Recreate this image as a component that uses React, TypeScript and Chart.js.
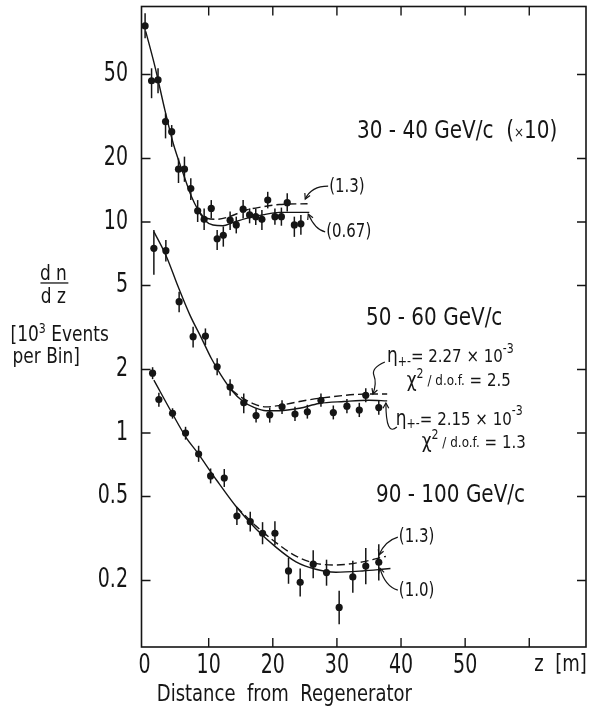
import React, { useEffect, useRef } from "react";
import { Chart, registerables } from "chart.js";

Chart.register(...registerables);

const FONT = "'DejaVu Sans', 'Noto Sans', sans-serif";
const INK = "#151515";

// ---------- axes ----------
const X_MIN = -0.48;
const X_MAX = 68.85;
const Y_MIN = 0.0968;
const Y_MAX = 105;
const X_TICK_VALUES = [0, 10, 20, 30, 40, 50];
const X_TICK_LABELS = ["0", "10", "20", "30", "40", "50"];
const X_FRAME_TICKS = [10, 20, 30, 40, 50, 60];
const Y_TICK_VALUES = [0.2, 0.5, 1, 2, 5, 10, 20, 50];
const Y_TICK_LABELS = ["0.2", "0.5", "1", "2", "5", "10", "20", "50"];

// ---------- 30-40 GeV/c (x10) ----------
const z3040 = [0.08, 1.09, 2.1, 3.27, 4.23, 5.29, 6.22, 7.21, 8.28, 9.29, 10.4, 11.32, 12.28, 13.34, 14.3, 15.37, 16.38, 17.34, 18.3, 19.21, 20.33, 21.34, 22.25, 23.36, 24.38];
const n3040 = [84.9, 46.7, 47.1, 29.9, 26.8, 17.8, 17.8, 14.4, 11.3, 10.3, 11.6, 8.33, 8.65, 10.2, 9.68, 11.5, 10.8, 10.6, 10.3, 12.7, 10.6, 10.6, 12.35, 9.68, 9.8];
const lo3040 = [74.3, 38.6, 40.7, 24.9, 22.7, 15.3, 15.5, 12.7, 10.0, 9.16, 10.4, 7.37, 7.64, 9.16, 8.83, 10.4, 9.86, 9.68, 9.16, 11.6, 9.7, 9.6, 11.2, 8.5, 8.7];
const hi3040 = [97.5, 53.5, 53.5, 32.7, 28.8, 20.0, 20.4, 16.1, 12.7, 11.6, 12.7, 9.16, 9.52, 11.2, 10.6, 12.7, 11.6, 11.6, 11.4, 13.9, 11.6, 11.7, 13.7, 10.6, 10.8];
const fitSolidZ3040 = [0.18, 1.62, 3.17, 4.46, 6.01, 7.31, 8.34, 9.38, 10.67, 12.23, 13.75, 15.87, 18.4, 21.03, 23.62, 25.69];
const fitSolidN3040 = [80.1, 54.5, 33.9, 23.6, 17.0, 13.2, 11.4, 10.2, 9.68, 9.6, 9.93, 10.4, 10.8, 11.1, 11.1, 11.1];
const fitDashZ3040 = [8.34, 9.38, 11.21, 13.24, 15.87, 18.4, 21.03, 25.42];
const fitDashN3040 = [11.4, 10.5, 10.3, 10.6, 11.4, 11.8, 12.1, 12.2];

// ---------- 50-60 GeV/c ----------
const z5060 = [1.45, 3.32, 5.39, 7.57, 9.49, 11.32, 13.34, 15.47, 17.39, 19.52, 21.44, 23.46, 25.39, 27.51, 29.44, 31.56, 33.49, 34.5, 36.53];
const n5060 = [7.5, 7.31, 4.19, 2.86, 2.88, 2.06, 1.65, 1.39, 1.21, 1.22, 1.33, 1.23, 1.26, 1.43, 1.25, 1.34, 1.285, 1.51, 1.32];
const lo5060 = [5.62, 6.49, 3.73, 2.54, 2.61, 1.88, 1.5, 1.24, 1.12, 1.12, 1.23, 1.14, 1.17, 1.33, 1.16, 1.24, 1.19, 1.4, 1.22];
const hi5060 = [9.16, 8.22, 4.67, 3.19, 3.13, 2.26, 1.8, 1.54, 1.31, 1.32, 1.43, 1.33, 1.36, 1.54, 1.35, 1.45, 1.39, 1.63, 1.42];
const fitSolidZ5060 = [1.45, 3.42, 5.24, 7.06, 8.89, 10.4, 11.92, 13.54, 15.37, 17.14, 18.96, 21.03, 24.17, 27.21, 31.12, 35.01, 37.84];
const fitSolidN5060 = [9.0, 6.85, 4.93, 3.63, 2.81, 2.26, 1.88, 1.6, 1.41, 1.318, 1.275, 1.275, 1.31, 1.38, 1.41, 1.43, 1.42];
const fitDashZ5060 = [13.54, 15.37, 17.14, 18.96, 21.03, 24.17, 27.21, 35.01, 37.84];
const fitDashN5060 = [1.6, 1.46, 1.37, 1.33, 1.35, 1.41, 1.46, 1.53, 1.53];

// ---------- 90-100 GeV/c ----------
const z90100 = [1.25, 2.23, 4.36, 6.39, 8.43, 10.3, 12.43, 14.4, 16.48, 18.4, 20.33, 22.45, 24.27, 26.3, 28.38, 30.35, 32.48, 34.5, 36.53];
const n90100 = [1.92, 1.44, 1.24, 1.0, 0.795, 0.626, 0.612, 0.404, 0.38, 0.335, 0.335, 0.222, 0.196, 0.239, 0.218, 0.149, 0.208, 0.234, 0.244];
const lo90100 = [1.8, 1.33, 1.17, 0.93, 0.73, 0.577, 0.555, 0.366, 0.341, 0.297, 0.294, 0.193, 0.168, 0.205, 0.189, 0.124, 0.175, 0.192, 0.2];
const hi90100 = [2.05, 1.55, 1.31, 1.07, 0.87, 0.679, 0.675, 0.446, 0.424, 0.378, 0.382, 0.256, 0.228, 0.278, 0.251, 0.179, 0.248, 0.285, 0.297];
const fitSolidZ90100 = [1.45, 4.43, 6.56, 8.08, 11.21, 14.3, 17.39, 20.53, 23.62, 26.7, 29.84, 33.99, 37.03, 38.35];
const fitSolidN90100 = [1.78, 1.22, 0.944, 0.82, 0.599, 0.447, 0.351, 0.287, 0.245, 0.226, 0.219, 0.222, 0.226, 0.228];
const fitDashZ90100 = [14.3, 17.39, 20.53, 23.62, 26.7, 29.84, 33.99, 37.03, 37.64];
const fitDashN90100 = [0.447, 0.362, 0.302, 0.261, 0.241, 0.237, 0.245, 0.258, 0.26];

// ---------- annotations (data coordinates) ----------
type Seg = { t: string; s: number; dy?: number };
type Label = { z: number; n: number; segs: Seg[]; align?: "left" | "center" | "right"; sy?: number };

const LABELS: Label[] = [
  { z: 33.14, n: 26.7, sy: 1.22, segs: [{ t: "30 - 40 GeV/c  (", s: 20 }, { t: "×", s: 12, dy: 1 }, { t: "10)", s: 20 }] },
  { z: 28.79, n: 14.7, sy: 1.25, segs: [{ t: "(1.3)", s: 15 }] },
  { z: 28.32, n: 8.97, sy: 1.25, segs: [{ t: "(0.67)", s: 15 }] },
  { z: 34.53, n: 3.47, sy: 1.22, segs: [{ t: "50 - 60 GeV/c", s: 20 }] },
  { z: 37.8, n: 2.29, sy: 1.2, segs: [{ t: "η", s: 17 }, { t: "+-", s: 11, dy: 5 }, { t: "= 2.27 × 10", s: 15 }, { t: "-3", s: 11, dy: -8 }] },
  { z: 40.9, n: 1.76, sy: 1.2, segs: [{ t: "χ", s: 17 }, { t: "2", s: 11, dy: -7 }, { t: " / d.o.f.", s: 12 }, { t: " = 2.5", s: 15 }] },
  { z: 39.19, n: 1.152, sy: 1.2, segs: [{ t: "η", s: 17 }, { t: "+-", s: 11, dy: 5 }, { t: "= 2.15 × 10", s: 15 }, { t: "-3", s: 11, dy: -8 }] },
  { z: 43.23, n: 0.897, sy: 1.2, segs: [{ t: "χ", s: 17 }, { t: "2", s: 11, dy: -7 }, { t: " / d.o.f.", s: 12 }, { t: " = 1.3", s: 15 }] },
  { z: 36.09, n: 0.503, sy: 1.22, segs: [{ t: "90 - 100 GeV/c", s: 20 }] },
  { z: 39.66, n: 0.321, sy: 1.25, segs: [{ t: "(1.3)", s: 15 }] },
  { z: 39.66, n: 0.178, sy: 1.25, segs: [{ t: "(1.0)", s: 15 }] },
  { z: 21.8, n: 0.0573, sy: 1.25, align: "center", segs: [{ t: "Distance  from  Regenerator", s: 18 }] },
  { z: 60.78, n: 0.0795, sy: 1.3, segs: [{ t: "z  [m]", s: 18 }] },
  { z: -14.22, n: 5.67, sy: 1.25, align: "center", segs: [{ t: "d n", s: 17 }] },
  { z: -14.22, n: 4.41, sy: 1.25, align: "center", segs: [{ t: "d z", s: 17 }] },
  { z: -20.9, n: 2.91, sy: 1.25, segs: [{ t: "[10", s: 17 }, { t: "3", s: 11, dy: -6 }, { t: " Events", s: 17 }] },
  { z: -20.6, n: 2.29, sy: 1.25, segs: [{ t: "per Bin]", s: 17 }] },
];
const FRACTION_BAR = { z1: -16.24, z2: -11.89, n: 5.14 };

const ARROWS: number[][][] = [
  [[28.63, 14.8], [25.99, 14.8], [25.06, 12.85]],
  [[28.17, 8.97], [26.61, 9.16], [25.53, 10.9]],
  [[37.48, 2.17], [35.31, 2.03], [36.24, 1.73], [35.62, 1.53]],
  [[39.35, 1.068], [37.64, 0.957], [37.64, 1.387]],
  [[39.5, 0.321], [37.48, 0.308], [36.55, 0.264]],
  [[39.5, 0.18], [37.48, 0.188], [36.71, 0.229]],
];

// ---------- helpers ----------
const zip = (xs: number[], ys: number[]) => xs.map((x, i) => ({ x, y: ys[i] }));

const SERIES = [
  { z: z3040, n: n3040, lo: lo3040, hi: hi3040 },
  { z: z5060, n: n5060, lo: lo5060, hi: hi5060 },
  { z: z90100, n: n90100, lo: lo90100, hi: hi90100 },
];
const FITS = [
  { z: fitSolidZ3040, n: fitSolidN3040, dash: false },
  { z: fitDashZ3040, n: fitDashN3040, dash: true },
  { z: fitSolidZ5060, n: fitSolidN5060, dash: false },
  { z: fitDashZ5060, n: fitDashN5060, dash: true },
  { z: fitSolidZ90100, n: fitSolidN90100, dash: false },
  { z: fitDashZ90100, n: fitDashN90100, dash: true },
];

function drawSegs(ctx: CanvasRenderingContext2D, segs: Seg[], x: number, y: number, align: string, sy: number) {
  let w = 0;
  for (const sg of segs) {
    ctx.font = `${sg.s}px ${FONT}`;
    w += ctx.measureText(sg.t).width;
  }
  let cx = align === "center" ? x - w / 2 : align === "right" ? x - w : x;
  for (const sg of segs) {
    ctx.font = `${sg.s}px ${FONT}`;
    const tw = ctx.measureText(sg.t).width;
    ctx.save();
    ctx.translate(cx, y + (sg.dy || 0));
    ctx.scale(1, sy);
    ctx.textAlign = "left";
    ctx.textBaseline = "middle";
    ctx.fillStyle = INK;
    ctx.fillText(sg.t, 0, 0);
    ctx.restore();
    cx += tw;
  }
}

const decorPlugin = {
  id: "decor",
  beforeDatasetsDraw(chart: any) {
    const { ctx, scales } = chart;
    const ys = scales.y;
    ctx.save();
    ctx.strokeStyle = INK;
    ctx.lineWidth = 1.5;
    SERIES.forEach((s, si) => {
      const meta = chart.getDatasetMeta(si);
      s.z.forEach((_, i) => {
        const el = meta.data[i];
        if (!el) return;
        const px = el.x;
        ctx.beginPath();
        ctx.moveTo(px, ys.getPixelForValue(s.lo[i]));
        ctx.lineTo(px, ys.getPixelForValue(s.hi[i]));
        ctx.stroke();
      });
    });
    ctx.restore();
  },
  afterDraw(chart: any) {
    const { ctx, chartArea: a, scales } = chart;
    const xs = scales.x;
    const ys = scales.y;
    ctx.save();
    // frame
    ctx.strokeStyle = INK;
    ctx.lineWidth = 1.6;
    ctx.strokeRect(a.left, a.top, a.right - a.left, a.bottom - a.top);
    // inward ticks
    ctx.lineWidth = 1.4;
    const TL = 9;
    for (const v of Y_TICK_VALUES) {
      const py = ys.getPixelForValue(v);
      ctx.beginPath();
      ctx.moveTo(a.left, py);
      ctx.lineTo(a.left + TL, py);
      ctx.moveTo(a.right, py);
      ctx.lineTo(a.right - TL, py);
      ctx.stroke();
    }
    for (const v of X_FRAME_TICKS) {
      const px = xs.getPixelForValue(v);
      ctx.beginPath();
      ctx.moveTo(px, a.bottom);
      ctx.lineTo(px, a.bottom - TL);
      ctx.moveTo(px, a.top);
      ctx.lineTo(px, a.top + TL);
      ctx.stroke();
    }
    // tick labels
    Y_TICK_VALUES.forEach((v, i) => {
      drawSegs(ctx, [{ t: Y_TICK_LABELS[i], s: 19 }], a.left - 13.5, ys.getPixelForValue(v), "right", 1.4);
    });
    X_TICK_VALUES.forEach((v, i) => {
      drawSegs(ctx, [{ t: X_TICK_LABELS[i], s: 19 }], xs.getPixelForValue(v), a.bottom + 19, "center", 1.4);
    });
    // labels
    for (const L of LABELS) {
      drawSegs(ctx, L.segs, xs.getPixelForValue(L.z), ys.getPixelForValue(L.n), L.align || "left", L.sy || 1.2);
    }
    // fraction bar
    ctx.lineWidth = 1.3;
    ctx.beginPath();
    const fy = ys.getPixelForValue(FRACTION_BAR.n);
    ctx.moveTo(xs.getPixelForValue(FRACTION_BAR.z1), fy);
    ctx.lineTo(xs.getPixelForValue(FRACTION_BAR.z2), fy);
    ctx.stroke();
    // arrows
    ctx.lineWidth = 1.2;
    for (const arr of ARROWS) {
      const p = arr.map(([z, n]) => [xs.getPixelForValue(z), ys.getPixelForValue(n)]);
      ctx.beginPath();
      ctx.moveTo(p[0][0], p[0][1]);
      if (p.length === 2) {
        ctx.lineTo(p[1][0], p[1][1]);
      } else if (p.length === 3) {
        ctx.quadraticCurveTo(p[1][0], p[1][1], p[2][0], p[2][1]);
      } else {
        for (let i = 1; i < p.length - 2; i++) {
          const mx = (p[i][0] + p[i + 1][0]) / 2;
          const my = (p[i][1] + p[i + 1][1]) / 2;
          ctx.quadraticCurveTo(p[i][0], p[i][1], mx, my);
        }
        const k = p.length - 2;
        ctx.quadraticCurveTo(p[k][0], p[k][1], p[k + 1][0], p[k + 1][1]);
      }
      ctx.stroke();
      const [ax, ay] = p[p.length - 2];
      const [bx, by] = p[p.length - 1];
      const ang = Math.atan2(by - ay, bx - ax);
      const hl = 6;
      ctx.beginPath();
      ctx.moveTo(bx - hl * Math.cos(ang - 0.5), by - hl * Math.sin(ang - 0.5));
      ctx.lineTo(bx, by);
      ctx.lineTo(bx - hl * Math.cos(ang + 0.5), by - hl * Math.sin(ang + 0.5));
      ctx.stroke();
    }
    ctx.restore();
  },
};

export default function App() {
  const ref = useRef<HTMLCanvasElement>(null);
  useEffect(() => {
    const canvas = ref.current;
    if (!canvas) return;
    const datasets: any[] = [];
    SERIES.forEach((s) => {
      datasets.push({
        data: zip(s.z, s.n),
        showLine: false,
        pointRadius: 3.6,
        pointBackgroundColor: INK,
        pointBorderWidth: 0,
        pointBorderColor: INK,
      });
    });
    FITS.forEach((f) => {
      datasets.push({
        data: zip(f.z, f.n),
        showLine: true,
        borderColor: INK,
        borderWidth: 1.4,
        borderDash: f.dash ? [8, 4] : [],
        pointRadius: 0,
        cubicInterpolationMode: "monotone",
        fill: false,
      });
    });
    const chart = new Chart(canvas, {
      type: "scatter",
      data: { datasets },
      options: {
        responsive: false,
        animation: false,
        devicePixelRatio: 1,
        events: [],
        layout: { padding: { top: 6.5, right: 1.5, left: 0, bottom: 0 } },
        plugins: { legend: { display: false }, tooltip: { enabled: false } },
        scales: {
          x: {
            type: "linear",
            min: X_MIN,
            max: X_MAX,
            grid: { display: false, drawTicks: false },
            border: { display: false },
            ticks: { display: false },
            afterFit: (s: any) => {
              s.height = 68;
            },
          },
          y: {
            type: "logarithmic",
            min: Y_MIN,
            max: Y_MAX,
            grid: { display: false, drawTicks: false },
            border: { display: false },
            ticks: { display: false },
            afterFit: (s: any) => {
              s.width = 141.5;
            },
          },
        },
      } as any,
      plugins: [decorPlugin],
    });
    return () => chart.destroy();
  }, []);
  return (
    <div style={{ position: "absolute", left: 0, top: 0, width: 590, height: 715, background: "#fff" }}>
      <canvas ref={ref} width={590} height={715} style={{ width: 590, height: 715, display: "block" }} />
    </div>
  );
}
